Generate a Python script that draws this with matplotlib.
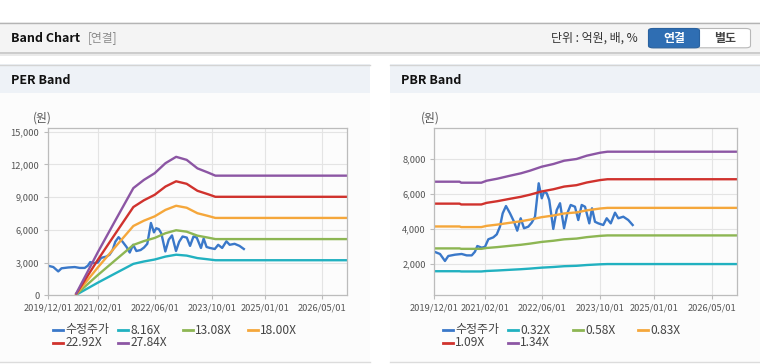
import matplotlib.pyplot as plt
import matplotlib.dates as mdates
from matplotlib.patches import Rectangle, FancyBboxPatch
from matplotlib.lines import Line2D
from matplotlib.ticker import FuncFormatter
import pandas as pd

plt.rcParams['font.family'] = ['Noto Sans CJK KR', 'DejaVu Sans']

W, H = 760, 364

# Adjusted share price (수정주가)
price_dates = ['2019-12-01', '2020-01-18', '2020-02-29', '2020-03-28', '2020-05-24',
               '2020-07-19', '2020-08-30', '2020-10-12', '2020-11-08', '2020-11-28',
               '2021-01-04', '2021-02-01', '2021-03-01', '2021-04-12', '2021-05-11',
               '2021-06-07', '2021-06-30', '2021-07-28', '2021-08-31', '2021-10-04',
               '2021-10-31', '2021-11-29', '2021-12-27', '2022-02-01', '2022-03-02',
               '2022-03-30', '2022-04-30', '2022-05-26', '2022-06-14', '2022-07-07',
               '2022-07-28', '2022-08-31', '2022-09-29', '2022-10-27', '2022-11-30',
               '2022-12-27', '2023-01-25', '2023-03-02', '2023-03-30', '2023-04-28',
               '2023-05-26', '2023-07-01', '2023-07-24', '2023-08-18', '2023-09-15',
               '2023-10-27', '2023-11-25', '2023-12-29', '2024-02-03', '2024-03-02',
               '2024-04-13', '2024-05-25', '2024-07-01']
price = [2720, 2590, 2190, 2475, 2550, 2590, 2510, 2510, 2720, 3045,
         2950, 3000, 3430, 3540, 3710, 4150, 4910, 5330, 4910, 4430,
         3920, 4630, 4060, 4150, 4380, 4720, 6630, 5770, 6150, 6060,
         5670, 4020, 5100, 5490, 4060, 4910, 5390, 5290, 4530, 5390,
         5290, 4340, 5200, 4430, 4340, 4245, 4630, 4340, 4950, 4630,
         4720, 4530, 4245]

# EPS behind the PER band
eps_dates = ['2020-08-01', '2021-02-01', '2021-07-01', '2021-12-01', '2022-03-01',
             '2022-06-01', '2022-09-01', '2022-12-01', '2023-03-01', '2023-06-01',
             '2023-09-01', '2023-11-01', '2026-12-01']
eps = [6.5, 142, 247, 353, 380, 402, 435, 456, 446, 418, 404, 394, 394]
per_mult = [8.16, 13.08, 18.00, 22.92, 27.84]

# BPS behind the PBR band
bps_dates = ['2019-12-01', '2020-07-01', '2020-07-15', '2021-01-01', '2021-02-15',
             '2021-05-15', '2021-09-01', '2021-12-01', '2022-02-15', '2022-05-25',
             '2022-09-01', '2022-12-01', '2023-03-15', '2023-06-10', '2023-10-01',
             '2023-12-01', '2026-12-01']
bps = [5015, 5015, 4972, 4972, 5057, 5142, 5271, 5373, 5484, 5654,
       5769, 5910, 5983, 6124, 6251, 6294, 6294]
pbr_mult = [0.32, 0.58, 0.83, 1.09, 1.34]

xticks = ['2019-12-01', '2021-02-01', '2022-06-01', '2023-10-01', '2025-01-01', '2026-05-01']
xlim = ('2019-12-01', '2026-12-01')

PRICE_C = '#3a78c9'
BAND_C = ['#21b1c0', '#8db653', '#f5a73b', '#d0322d', '#8c56a4']
FRAME = '#bcbcbc'
GRID = '#e4e4e4'


def rect(x, y, w, h, **kw):
    # rectangle given in pixel coords from the top-left corner
    fig.add_artist(Rectangle((x / W, 1 - (y + h) / H), w / W, h / H,
                             transform=fig.transFigure, **kw))


def hline(x0, x1, y, color, lw=1.0):
    fig.add_artist(Line2D([x0 / W, x1 / W], [1 - y / H, 1 - y / H],
                          transform=fig.transFigure, color=color, lw=lw))


def ftext(x, y, s, **kw):
    fig.text(x / W, 1 - y / H, s, va='center', **kw)


def legend_items(x0, labels, colors):
    for i, (lab, c) in enumerate(zip(labels, colors)):
        x = x0 + 65 * (i % 4)
        y = 330 + 13 * (i // 4)
        fig.add_artist(Line2D([x / W, (x + 10) / W], [1 - y / H, 1 - y / H],
                              transform=fig.transFigure, color=c, lw=2))
        ftext(x + 12.5, y, lab, fontsize=8.6, color='#444444')


def style(ax, ylim, yticks):
    ax.set_facecolor('none')
    ax.set_xlim(pd.to_datetime(xlim[0]), pd.to_datetime(xlim[1]))
    ax.set_ylim(*ylim)
    ax.set_xticks(pd.to_datetime(xticks))
    ax.xaxis.set_major_formatter(mdates.DateFormatter('%Y/%m/%d'))
    ax.set_yticks(yticks)
    ax.yaxis.set_major_formatter(FuncFormatter(lambda v, _: f'{v:,.0f}'))
    ax.grid(color=GRID, lw=0.8)
    ax.set_axisbelow(True)
    for s in ax.spines.values():
        s.set_color(FRAME)
        s.set_linewidth(0.9)
    ax.tick_params(length=3, width=0.8, color=FRAME, labelsize=6.7,
                   labelcolor='#555555', pad=3)


fig = plt.figure(figsize=(W / 100, H / 100), dpi=100)
fig.patch.set_facecolor('white')

# page header bar
rect(0, 22, W, 31, facecolor='#f4f4f4', edgecolor='none', zorder=-5)
hline(0, W, 22.5, '#b4b4b4')
hline(0, W, 53, '#c4c4c4', lw=1.2)
hline(0, W, 54.5, '#e6e6e6', lw=1.2)
ftext(11, 38, 'Band Chart', fontsize=9, fontweight='bold', color='#111111')
ftext(88, 38, '[연결]', fontsize=8.5, color='#8a8a8a')
ftext(551, 38, '단위 : 억원, 배, %', fontsize=8.6, color='#333333')
fig.add_artist(FancyBboxPatch((648.5 / W, 1 - 47.8 / H), 102 / W, 19.3 / H,
                              boxstyle='round,pad=0,rounding_size=0.006',
                              transform=fig.transFigure, facecolor='white',
                              edgecolor='#b8b8b8', lw=0.8))
fig.add_artist(FancyBboxPatch((648.5 / W, 1 - 47.8 / H), 51 / W, 19.3 / H,
                              boxstyle='round,pad=0,rounding_size=0.006',
                              transform=fig.transFigure, facecolor='#2f6eb3',
                              edgecolor='#2a62a0', lw=0.8))
ftext(674, 38.2, '연결', fontsize=8.6, fontweight='bold', color='white', ha='center')
ftext(725, 38.2, '별도', fontsize=8.6, fontweight='bold', color='#444444', ha='center')

# two panels
for px0 in (0, 390):
    rect(px0, 64, 370, 29, facecolor='#eef2f7', edgecolor='none', zorder=-5)
    rect(px0, 93, 370, 269, facecolor='#fcfcfc', edgecolor='none', zorder=-5)
    hline(px0, px0 + 370, 64.5, '#d4d4d4')
    hline(px0, px0 + 370, 362, '#dcdcdc')
ftext(11, 80, 'PER Band', fontsize=9, fontweight='bold', color='#111111')
ftext(401, 80, 'PBR Band', fontsize=9, fontweight='bold', color='#111111')

ax1 = fig.add_axes([47.7 / W, 1 - 295.3 / H, 299.6 / W, 167 / H])
ax2 = fig.add_axes([434.3 / W, 1 - 295.3 / H, 303 / W, 167 / H])

# PER band
ax1.plot(pd.to_datetime(price_dates), price, color=PRICE_C, lw=1.7)
for m, c in zip(per_mult, BAND_C):
    ax1.plot(pd.to_datetime(eps_dates), [e * m for e in eps], color=c, lw=1.7)
style(ax1, (0, 15310), [0, 3000, 6000, 9000, 12000, 15000])

# PBR band
ax2.plot(pd.to_datetime(price_dates), price, color=PRICE_C, lw=1.7)
for m, c in zip(pbr_mult, BAND_C):
    ax2.plot(pd.to_datetime(bps_dates), [b * m for b in bps], color=c, lw=1.7)
style(ax2, (229, 9771), [2000, 4000, 6000, 8000])

ftext(42, 118, '(원)', fontsize=8.5, color='#555555', ha='center')
ftext(430, 118, '(원)', fontsize=8.5, color='#555555', ha='center')

legend_items(52.7, ['수정주가'] + [f'{m:.2f}X' for m in per_mult],
             [PRICE_C] + BAND_C)
legend_items(442.7, ['수정주가'] + [f'{m:.2f}X' for m in pbr_mult],
             [PRICE_C] + BAND_C)

fig.savefig('out.png', dpi=100)
